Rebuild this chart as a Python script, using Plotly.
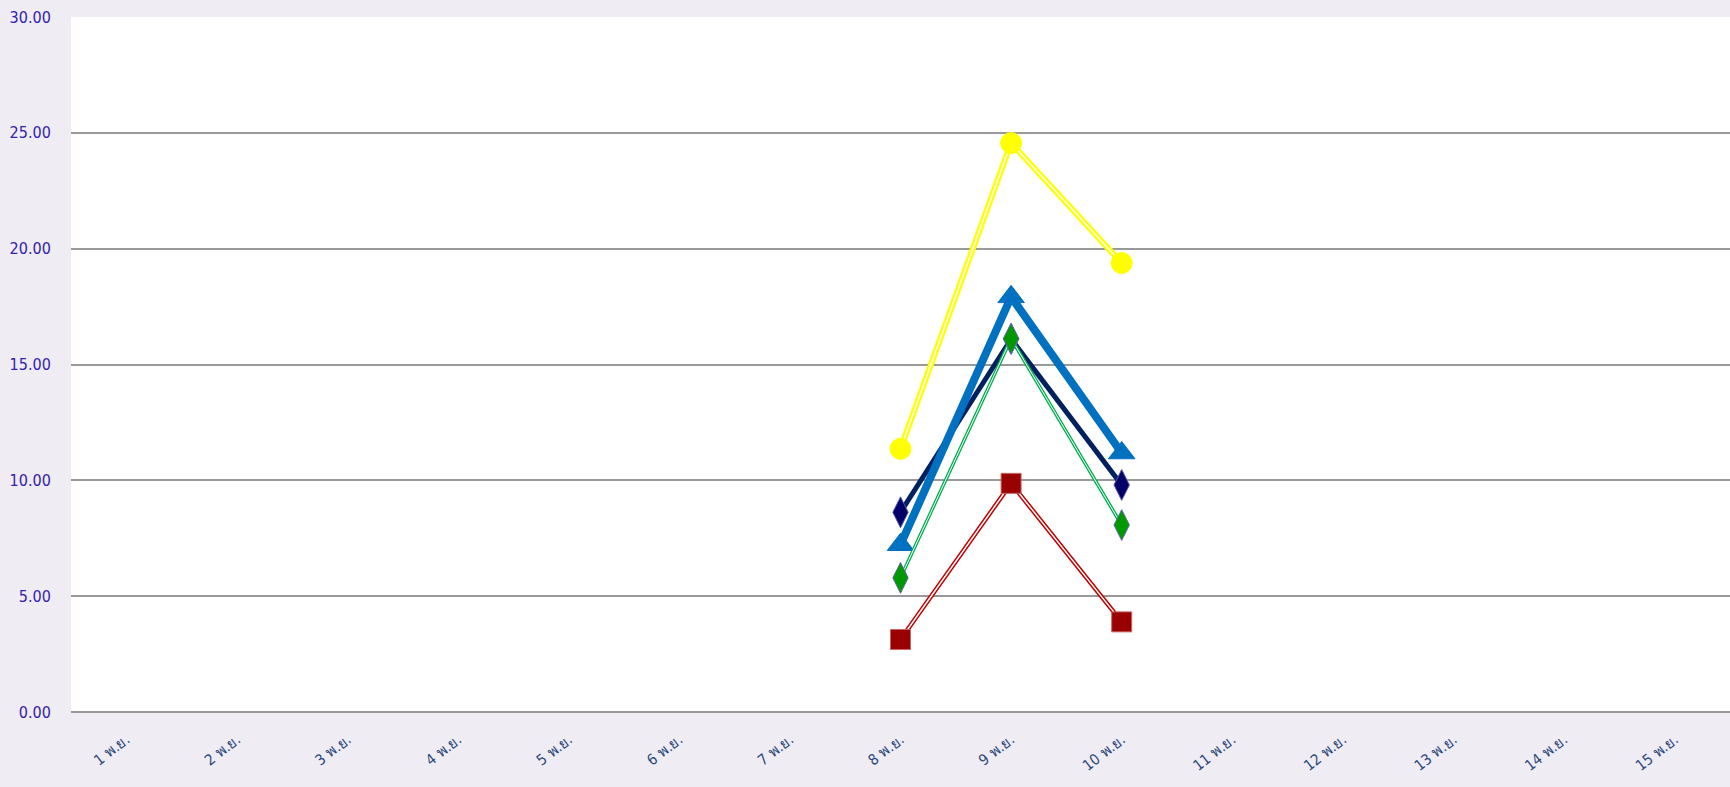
import plotly.graph_objects as go

categories = [f"{i} พ.ย." for i in range(1, 16)]
days_with_data = ["8 พ.ย.", "9 พ.ย.", "10 พ.ย."]

navy_vals = [8.62, 16.1, 9.8]
blue_vals = [7.22, 17.92, 11.18]
green_vals = [5.79, 16.12, 8.07]
red_vals = [3.13, 9.87, 3.89]
yellow_vals = [11.36, 24.56, 19.38]

y_ticks = [0, 5, 10, 15, 20, 25, 30]

FONT = "Liberation Sans Narrow, DejaVu Sans Condensed, sans-serif"

fig = go.Figure()

def add_series(vals, line_color, line_w, inner_w, marker_color, symbol, msize, mline=None):
    fig.add_trace(go.Scatter(x=days_with_data, y=vals, mode="lines",
                             line=dict(color=line_color, width=line_w),
                             hoverinfo="skip", showlegend=False))
    if inner_w:
        fig.add_trace(go.Scatter(x=days_with_data, y=vals, mode="lines",
                                 line=dict(color="white", width=inner_w),
                                 hoverinfo="skip", showlegend=False))
    fig.add_trace(go.Scatter(x=days_with_data, y=vals, mode="markers",
                             marker=dict(color=marker_color, symbol=symbol, size=msize,
                                         line=dict(color=mline or marker_color, width=1)),
                             showlegend=False))

add_series(yellow_vals, "#ffff00", 6, 1.5, "#ffff00", "circle", 21)
add_series(navy_vals, "#002060", 5, 0, "#000066", "diamond-tall", 22, "#5555aa")
add_series(blue_vals, "#0070c0", 8, 0, "#0070c0", "triangle-up", 23)
add_series(green_vals, "#00b050", 3.5, 1, "#009900", "diamond-tall", 22, "#6666aa")
add_series(red_vals, "#c00000", 4.5, 1.5, "#990000", "square", 20, "#cc6666")

fig.update_layout(
    width=1730, height=787,
    paper_bgcolor="#f0ecf4", plot_bgcolor="white",
    margin=dict(l=71, r=0, t=17, b=75),
    font=dict(family=FONT),
)
fig.update_xaxes(
    type="category", categoryorder="array", categoryarray=categories,
    tickvals=categories, ticktext=categories,
    range=[-0.5, 14.5], showgrid=False, showline=False, zeroline=False,
    tickangle=-38, ticks="outside", ticklen=12, tickcolor="rgba(0,0,0,0)",
    tickfont=dict(size=15, color="#2b4a7a", family=FONT),
)
fig.update_yaxes(
    range=[0, 30], tickvals=y_ticks, ticktext=[f"{v:.2f}" for v in y_ticks],
    showgrid=True, gridcolor="#999999", gridwidth=1.5,
    zeroline=True, zerolinecolor="#999999", zerolinewidth=2,
    ticks="outside", ticklen=16, tickcolor="rgba(0,0,0,0)",
    tickfont=dict(size=16, color="#3322aa", family=FONT),
)

fig.write_html("out.html", config={"displayModeBar": False})
with open("out.html", encoding="utf-8") as f:
    html = f.read()
html = html.replace("<head>", "<head><style>html,body{margin:0;padding:0;overflow:hidden;background:#f0ecf4;}</style>", 1)
with open("out.html", "w", encoding="utf-8") as f:
    f.write(html)
